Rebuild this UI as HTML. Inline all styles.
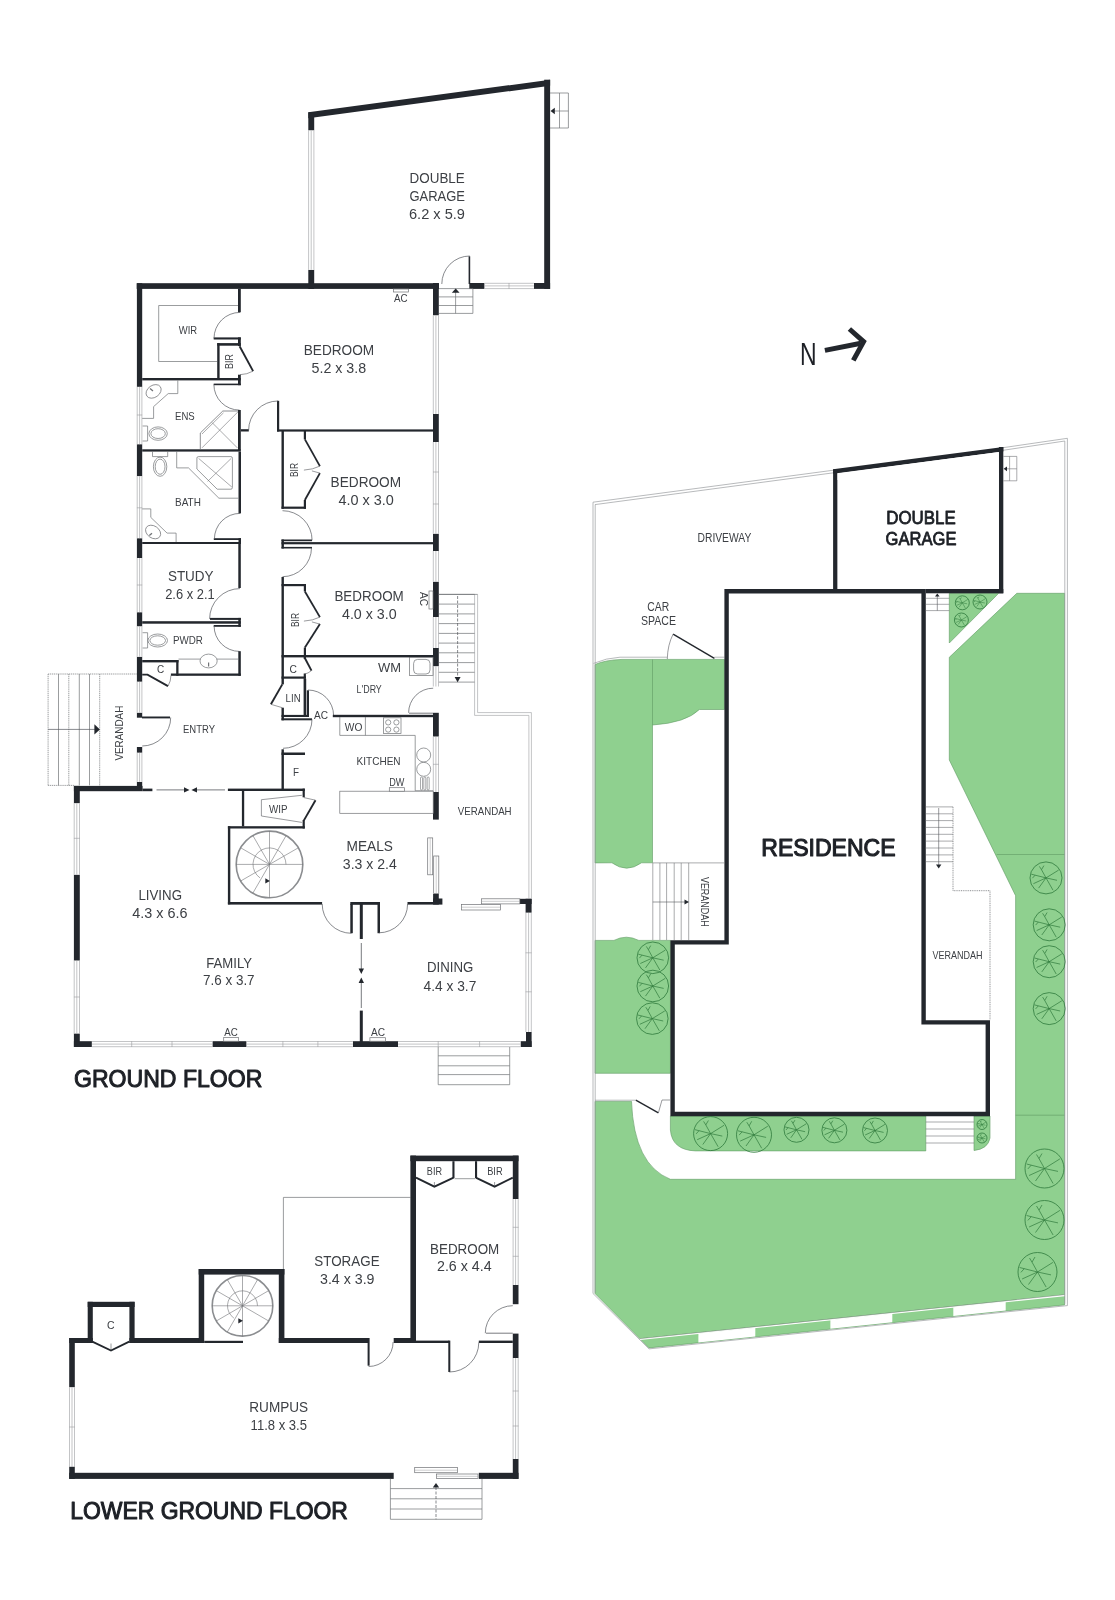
<!DOCTYPE html>
<html><head><meta charset="utf-8"><title>Floor plan</title>
<style>html,body{margin:0;padding:0;background:#fff}svg{display:block}text{font-family:"Liberation Sans",sans-serif}</style>
</head><body>
<svg width="1115" height="1600" viewBox="0 0 1115 1600">
<rect width="1115" height="1600" fill="#fff"/>
<path d="M595 862.9 L595 664.5 Q605 660 622 659.4 L724.4 659.4 L724.4 709.5 L699.4 709.5 Q685.9 722.9 652.5 725 L652.5 862.8 L641.5 862.8 Q626.7 873.6 611.9 862.8 Z" fill="#8fd08f" stroke="#5f9b63" stroke-width="0.6"/>
<polyline points="652.5,659.6 652.5,725" fill="none" stroke="#5f9b63" stroke-width="0.6"/>
<path d="M595 940.4 L613.9 940.4 Q626.3 934 638.8 940.4 L670.4 940.4 L670.4 1073.3 L595 1073.3 Z" fill="#8fd08f" stroke="#5f9b63" stroke-width="0.6"/>
<path d="M595 1101.4 L631.5 1101.4 Q634 1165 670.4 1179.3 L1015.6 1179.3 L1015.6 895.7 L949.3 760 L949.3 657.3 L1016.8 593.3 L1064.6 593.3 L1064.6 1294.9 L640 1338.8 L595 1293.5 Z" fill="#8fd08f" stroke="#5f9b63" stroke-width="0.6"/>
<polyline points="996.6,854.5 1064.6,854.5" fill="none" stroke="#5f9b63" stroke-width="0.6"/>
<polyline points="1015.6,1115.2 1064.6,1115.2" fill="none" stroke="#5f9b63" stroke-width="0.6"/>
<path d="M670.4 1116 L925.8 1116 L925.8 1150.9 L695.5 1150.9 Q672 1150 670.4 1130 Z" fill="#8fd08f" stroke="#5f9b63" stroke-width="0.6"/>
<path d="M974 1116 L990 1116 L990 1138 Q988 1149 974 1150.5 Z" fill="#8fd08f" stroke="#5f9b63" stroke-width="0.6"/>
<polygon points="949.3,593.3 998.7,593.3 949.3,643" fill="#8fd08f" stroke="#5f9b63" stroke-width="0.6"/>
<polygon points="640,1338.8 1064.6,1294.9 1064.6,1304.9 649,1347.9" fill="#8fd08f" stroke="#5f9b63" stroke-width="0.6"/>
<polygon points="698.4,1333.6 755.3,1327.7 755.3,1336.5 698.4,1342.4" fill="#fff"/>
<polygon points="830.4,1319.9 892.3,1313.5 892.3,1322.3 830.4,1328.7" fill="#fff"/>
<polygon points="953.3,1307.2 1005.7,1301.8 1005.7,1310.6 953.3,1316" fill="#fff"/>
<polyline points="640,1339.4 1064.6,1295.5" fill="none" stroke="#fff" stroke-width="1.3"/>
<polyline points="640,1338.6 1064.6,1294.7" fill="none" stroke="#9a9c9f" stroke-width="0.5"/>
<polyline points="593,502.2 833.5,470.2" fill="none" stroke="#9a9c9f" stroke-width="0.7"/>
<polyline points="595,504.6 833.5,472.8" fill="none" stroke="#9a9c9f" stroke-width="0.7"/>
<polyline points="1003,447.7 1067.4,438.3 1067.4,1305.6 649,1348.9 593,1293.5 593,502.2" fill="none" stroke="#9a9c9f" stroke-width="0.7"/>
<polyline points="1003,450.3 1064.8,441 1064.8,1303.7" fill="none" stroke="#9a9c9f" stroke-width="0.7"/>
<polyline points="595.2,504.6 595.2,1292.8" fill="none" stroke="#9a9c9f" stroke-width="0.7"/>
<path d="M593.5 663.4 Q606 658 620 657.2 L667 657.2" fill="none" stroke="#9a9c9f" stroke-width="0.7"/>
<polyline points="714.4,657.2 724.4,657.2" fill="none" stroke="#9a9c9f" stroke-width="0.7"/>
<polygon points="833.1,469.3 1003.3,447 1003.3,451.4 833.1,473.7" fill="#23272d"/>
<rect x="833.1" y="469.3" width="4.5" height="124" fill="#23272d"/>
<rect x="998.9" y="447" width="4.4" height="146.3" fill="#23272d"/>
<polygon points="724.4,589 925.8,589 925.8,1020.2 990,1020.2 990,1116.2 670.4,1116.2 670.4,940.2 724.4,940.2" fill="#23272d"/>
<polygon points="728.8,593.4 921.4,593.4 921.4,1024.6 985.6,1024.6 985.6,1111.8 674.8,1111.8 674.8,944.6 728.8,944.6" fill="#fff"/>
<rect x="925.8" y="589" width="77.5" height="4.3" fill="#23272d"/>
<rect x="837.6" y="473" width="161.3" height="116" fill="#fff"/>
<polygon points="837.6,473.5 998.9,452 998.9,480 837.6,480" fill="#fff"/>
<polyline points="1003.3,456.4 1016.8,456.4 1016.8,480.8 1003.3,480.8" fill="none" stroke="#707276" stroke-width="0.6"/>
<polyline points="1009.6,456.4 1009.6,480.8" fill="none" stroke="#707276" stroke-width="0.6"/>
<polyline points="1005,468.8 1016.8,468.8" fill="none" stroke="#707276" stroke-width="0.6"/>
<polygon points="1003.6,468.8 1007,466.4 1007,471.2" fill="#23272d"/>
<polyline points="925.8,598.3 949.3,598.3" fill="none" stroke="#707276" stroke-width="0.6"/>
<polyline points="925.8,604.3 949.3,604.3" fill="none" stroke="#707276" stroke-width="0.6"/>
<polyline points="925.8,610.6 949.3,610.6" fill="none" stroke="#707276" stroke-width="0.6"/>
<polyline points="937.3,595 937.3,610.6" fill="none" stroke="#55585d" stroke-width="0.6"/>
<polygon points="935,596.4 939.6,596.4 937.3,593.4" fill="#23272d"/>
<polyline points="652.8,862.9 652.8,940" fill="none" stroke="#707276" stroke-width="0.6"/>
<polyline points="659.9,862.9 659.9,940" fill="none" stroke="#707276" stroke-width="0.6"/>
<polyline points="666.6,862.9 666.6,940" fill="none" stroke="#707276" stroke-width="0.6"/>
<polyline points="674.2,862.9 674.2,940" fill="none" stroke="#707276" stroke-width="0.6"/>
<polyline points="681.2,862.9 681.2,940" fill="none" stroke="#707276" stroke-width="0.6"/>
<polyline points="688.7,862.9 688.7,940" fill="none" stroke="#707276" stroke-width="0.6"/>
<polyline points="652.8,862.9 724.4,862.9" fill="none" stroke="#707276" stroke-width="0.6"/>
<polyline points="652.8,902 685,902" fill="none" stroke="#55585d" stroke-width="0.6"/>
<polygon points="684.5,899.4 684.5,904.6 689,902" fill="#23272d"/>
<polyline points="925.8,806.9 953,806.9" fill="none" stroke="#707276" stroke-width="0.6"/>
<polyline points="925.8,813.8 953,813.8" fill="none" stroke="#707276" stroke-width="0.6"/>
<polyline points="925.8,820.6 953,820.6" fill="none" stroke="#707276" stroke-width="0.6"/>
<polyline points="925.8,827.4 953,827.4" fill="none" stroke="#707276" stroke-width="0.6"/>
<polyline points="925.8,834.3 953,834.3" fill="none" stroke="#707276" stroke-width="0.6"/>
<polyline points="925.8,841.1 953,841.1" fill="none" stroke="#707276" stroke-width="0.6"/>
<polyline points="925.8,848 953,848" fill="none" stroke="#707276" stroke-width="0.6"/>
<polyline points="925.8,854.9 953,854.9" fill="none" stroke="#707276" stroke-width="0.6"/>
<polyline points="925.8,861.7 953,861.7" fill="none" stroke="#707276" stroke-width="0.6"/>
<polyline points="938.7,808 938.7,865" fill="none" stroke="#55585d" stroke-width="0.6"/>
<polygon points="936,864.6 941.4,864.6 938.7,868.6" fill="#23272d"/>
<polyline points="953,806.9 953,890.7 990,890.7 990,1020.2" fill="none" stroke="#707276" stroke-width="0.8" stroke-dasharray="1 0.8"/>
<polyline points="925.8,1122 974,1122" fill="none" stroke="#707276" stroke-width="0.6"/>
<polyline points="925.8,1129 974,1129" fill="none" stroke="#707276" stroke-width="0.6"/>
<polyline points="925.8,1136 974,1136" fill="none" stroke="#707276" stroke-width="0.6"/>
<polyline points="925.8,1143 974,1143" fill="none" stroke="#707276" stroke-width="0.6"/>
<polyline points="673.1,634.1 714.4,658.3" fill="none" stroke="#23272d" stroke-width="1.4"/>
<path d="M673.1 634.1 Q667.6 645 667.3 659" fill="none" stroke="#55585d" stroke-width="0.6"/>
<polyline points="635.8,1100.2 658.4,1112.8" fill="none" stroke="#23272d" stroke-width="1.4"/>
<polyline points="658.4,1112.8 662,1100 670,1100" fill="none" stroke="#55585d" stroke-width="0.6"/>
<polyline points="595,1100.2 635.8,1100.2" fill="none" stroke="#9a9c9f" stroke-width="0.7"/>
<circle cx="962.3" cy="602.8" r="7" fill="none" stroke="#2f7a3c" stroke-width="0.8"/>
<polyline points="962.3,602.8 967.8,599.4" fill="none" stroke="#2f7a3c" stroke-width="0.5"/>
<polyline points="962.3,602.8 967.1,603.8" fill="none" stroke="#2f7a3c" stroke-width="0.5"/>
<polyline points="962.3,602.8 965.4,608.2" fill="none" stroke="#2f7a3c" stroke-width="0.5"/>
<polyline points="962.3,602.8 959.1,607.3" fill="none" stroke="#2f7a3c" stroke-width="0.5"/>
<polyline points="962.3,602.8 956.8,605.3" fill="none" stroke="#2f7a3c" stroke-width="0.5"/>
<polyline points="962.3,602.8 955.9,601.2" fill="none" stroke="#2f7a3c" stroke-width="0.5"/>
<polyline points="962.3,602.8 960.3,599.2" fill="none" stroke="#2f7a3c" stroke-width="0.5"/>
<polyline points="959.4,597.8 960.3,599.2 961.4,597.4" fill="none" stroke="#2f7a3c" stroke-width="0.5"/>
<polyline points="956.3,602.9 957.5,601.6" fill="none" stroke="#2f7a3c" stroke-width="0.5"/>
<circle cx="980" cy="602" r="7" fill="none" stroke="#2f7a3c" stroke-width="0.8"/>
<polyline points="980,602 985.5,598.6" fill="none" stroke="#2f7a3c" stroke-width="0.5"/>
<polyline points="980,602 984.8,603" fill="none" stroke="#2f7a3c" stroke-width="0.5"/>
<polyline points="980,602 983.1,607.4" fill="none" stroke="#2f7a3c" stroke-width="0.5"/>
<polyline points="980,602 976.8,606.5" fill="none" stroke="#2f7a3c" stroke-width="0.5"/>
<polyline points="980,602 974.5,604.5" fill="none" stroke="#2f7a3c" stroke-width="0.5"/>
<polyline points="980,602 973.6,600.4" fill="none" stroke="#2f7a3c" stroke-width="0.5"/>
<polyline points="980,602 978,598.4" fill="none" stroke="#2f7a3c" stroke-width="0.5"/>
<polyline points="977.1,597 978,598.4 979.1,596.6" fill="none" stroke="#2f7a3c" stroke-width="0.5"/>
<polyline points="974,602.1 975.2,600.8" fill="none" stroke="#2f7a3c" stroke-width="0.5"/>
<circle cx="961.4" cy="620" r="7" fill="none" stroke="#2f7a3c" stroke-width="0.8"/>
<polyline points="961.4,620 966.9,616.6" fill="none" stroke="#2f7a3c" stroke-width="0.5"/>
<polyline points="961.4,620 966.2,621" fill="none" stroke="#2f7a3c" stroke-width="0.5"/>
<polyline points="961.4,620 964.5,625.4" fill="none" stroke="#2f7a3c" stroke-width="0.5"/>
<polyline points="961.4,620 958.2,624.5" fill="none" stroke="#2f7a3c" stroke-width="0.5"/>
<polyline points="961.4,620 955.9,622.5" fill="none" stroke="#2f7a3c" stroke-width="0.5"/>
<polyline points="961.4,620 955,618.4" fill="none" stroke="#2f7a3c" stroke-width="0.5"/>
<polyline points="961.4,620 959.4,616.4" fill="none" stroke="#2f7a3c" stroke-width="0.5"/>
<polyline points="958.5,615 959.4,616.4 960.5,614.6" fill="none" stroke="#2f7a3c" stroke-width="0.5"/>
<polyline points="955.4,620.1 956.6,618.8" fill="none" stroke="#2f7a3c" stroke-width="0.5"/>
<circle cx="652.8" cy="957.8" r="15.8" fill="none" stroke="#2f7a3c" stroke-width="0.8"/>
<polyline points="652.8,957.8 665.3,950.1" fill="none" stroke="#2f7a3c" stroke-width="0.7"/>
<polyline points="652.8,957.8 663.7,960.2" fill="none" stroke="#2f7a3c" stroke-width="0.7"/>
<polyline points="652.8,957.8 659.8,970" fill="none" stroke="#2f7a3c" stroke-width="0.7"/>
<polyline points="652.8,957.8 645.5,967.9" fill="none" stroke="#2f7a3c" stroke-width="0.7"/>
<polyline points="652.8,957.8 640.3,963.5" fill="none" stroke="#2f7a3c" stroke-width="0.7"/>
<polyline points="652.8,957.8 638.3,954.2" fill="none" stroke="#2f7a3c" stroke-width="0.7"/>
<polyline points="652.8,957.8 648.4,949.7" fill="none" stroke="#2f7a3c" stroke-width="0.7"/>
<polyline points="646.3,946.4 648.4,949.7 650.7,945.6" fill="none" stroke="#2f7a3c" stroke-width="0.7"/>
<polyline points="639.4,958.1 642.1,955.1" fill="none" stroke="#2f7a3c" stroke-width="0.7"/>
<circle cx="652.8" cy="986" r="15.8" fill="none" stroke="#2f7a3c" stroke-width="0.8"/>
<polyline points="652.8,986 665.3,978.3" fill="none" stroke="#2f7a3c" stroke-width="0.7"/>
<polyline points="652.8,986 663.7,988.4" fill="none" stroke="#2f7a3c" stroke-width="0.7"/>
<polyline points="652.8,986 659.8,998.2" fill="none" stroke="#2f7a3c" stroke-width="0.7"/>
<polyline points="652.8,986 645.5,996.1" fill="none" stroke="#2f7a3c" stroke-width="0.7"/>
<polyline points="652.8,986 640.3,991.7" fill="none" stroke="#2f7a3c" stroke-width="0.7"/>
<polyline points="652.8,986 638.3,982.4" fill="none" stroke="#2f7a3c" stroke-width="0.7"/>
<polyline points="652.8,986 648.4,977.9" fill="none" stroke="#2f7a3c" stroke-width="0.7"/>
<polyline points="646.3,974.6 648.4,977.9 650.7,973.8" fill="none" stroke="#2f7a3c" stroke-width="0.7"/>
<polyline points="639.4,986.3 642.1,983.3" fill="none" stroke="#2f7a3c" stroke-width="0.7"/>
<circle cx="652.3" cy="1018.6" r="15.8" fill="none" stroke="#2f7a3c" stroke-width="0.8"/>
<polyline points="652.3,1018.6 664.8,1010.9" fill="none" stroke="#2f7a3c" stroke-width="0.7"/>
<polyline points="652.3,1018.6 663.2,1021" fill="none" stroke="#2f7a3c" stroke-width="0.7"/>
<polyline points="652.3,1018.6 659.3,1030.8" fill="none" stroke="#2f7a3c" stroke-width="0.7"/>
<polyline points="652.3,1018.6 645,1028.7" fill="none" stroke="#2f7a3c" stroke-width="0.7"/>
<polyline points="652.3,1018.6 639.8,1024.3" fill="none" stroke="#2f7a3c" stroke-width="0.7"/>
<polyline points="652.3,1018.6 637.8,1015" fill="none" stroke="#2f7a3c" stroke-width="0.7"/>
<polyline points="652.3,1018.6 647.9,1010.5" fill="none" stroke="#2f7a3c" stroke-width="0.7"/>
<polyline points="645.8,1007.2 647.9,1010.5 650.2,1006.4" fill="none" stroke="#2f7a3c" stroke-width="0.7"/>
<polyline points="638.9,1018.9 641.6,1015.9" fill="none" stroke="#2f7a3c" stroke-width="0.7"/>
<circle cx="1046" cy="877.9" r="16" fill="none" stroke="#2f7a3c" stroke-width="0.8"/>
<polyline points="1046,877.9 1058.6,870.1" fill="none" stroke="#2f7a3c" stroke-width="0.7"/>
<polyline points="1046,877.9 1057,880.3" fill="none" stroke="#2f7a3c" stroke-width="0.7"/>
<polyline points="1046,877.9 1053,890.2" fill="none" stroke="#2f7a3c" stroke-width="0.7"/>
<polyline points="1046,877.9 1038.6,888.1" fill="none" stroke="#2f7a3c" stroke-width="0.7"/>
<polyline points="1046,877.9 1033.4,883.7" fill="none" stroke="#2f7a3c" stroke-width="0.7"/>
<polyline points="1046,877.9 1031.3,874.2" fill="none" stroke="#2f7a3c" stroke-width="0.7"/>
<polyline points="1046,877.9 1041.5,869.7" fill="none" stroke="#2f7a3c" stroke-width="0.7"/>
<polyline points="1039.4,866.4 1041.5,869.7 1043.9,865.6" fill="none" stroke="#2f7a3c" stroke-width="0.7"/>
<polyline points="1032.4,878.2 1035.1,875.2" fill="none" stroke="#2f7a3c" stroke-width="0.7"/>
<circle cx="1049.2" cy="924.8" r="16" fill="none" stroke="#2f7a3c" stroke-width="0.8"/>
<polyline points="1049.2,924.8 1061.8,917" fill="none" stroke="#2f7a3c" stroke-width="0.7"/>
<polyline points="1049.2,924.8 1060.2,927.2" fill="none" stroke="#2f7a3c" stroke-width="0.7"/>
<polyline points="1049.2,924.8 1056.2,937.1" fill="none" stroke="#2f7a3c" stroke-width="0.7"/>
<polyline points="1049.2,924.8 1041.8,935" fill="none" stroke="#2f7a3c" stroke-width="0.7"/>
<polyline points="1049.2,924.8 1036.6,930.6" fill="none" stroke="#2f7a3c" stroke-width="0.7"/>
<polyline points="1049.2,924.8 1034.5,921.1" fill="none" stroke="#2f7a3c" stroke-width="0.7"/>
<polyline points="1049.2,924.8 1044.7,916.6" fill="none" stroke="#2f7a3c" stroke-width="0.7"/>
<polyline points="1042.6,913.3 1044.7,916.6 1047.1,912.5" fill="none" stroke="#2f7a3c" stroke-width="0.7"/>
<polyline points="1035.6,925.1 1038.3,922.1" fill="none" stroke="#2f7a3c" stroke-width="0.7"/>
<circle cx="1049.2" cy="961.7" r="16" fill="none" stroke="#2f7a3c" stroke-width="0.8"/>
<polyline points="1049.2,961.7 1061.8,953.9" fill="none" stroke="#2f7a3c" stroke-width="0.7"/>
<polyline points="1049.2,961.7 1060.2,964.1" fill="none" stroke="#2f7a3c" stroke-width="0.7"/>
<polyline points="1049.2,961.7 1056.2,974" fill="none" stroke="#2f7a3c" stroke-width="0.7"/>
<polyline points="1049.2,961.7 1041.8,971.9" fill="none" stroke="#2f7a3c" stroke-width="0.7"/>
<polyline points="1049.2,961.7 1036.6,967.5" fill="none" stroke="#2f7a3c" stroke-width="0.7"/>
<polyline points="1049.2,961.7 1034.5,958" fill="none" stroke="#2f7a3c" stroke-width="0.7"/>
<polyline points="1049.2,961.7 1044.7,953.5" fill="none" stroke="#2f7a3c" stroke-width="0.7"/>
<polyline points="1042.6,950.2 1044.7,953.5 1047.1,949.4" fill="none" stroke="#2f7a3c" stroke-width="0.7"/>
<polyline points="1035.6,962 1038.3,959" fill="none" stroke="#2f7a3c" stroke-width="0.7"/>
<circle cx="1049.2" cy="1008.6" r="16" fill="none" stroke="#2f7a3c" stroke-width="0.8"/>
<polyline points="1049.2,1008.6 1061.8,1000.8" fill="none" stroke="#2f7a3c" stroke-width="0.7"/>
<polyline points="1049.2,1008.6 1060.2,1011" fill="none" stroke="#2f7a3c" stroke-width="0.7"/>
<polyline points="1049.2,1008.6 1056.2,1020.9" fill="none" stroke="#2f7a3c" stroke-width="0.7"/>
<polyline points="1049.2,1008.6 1041.8,1018.8" fill="none" stroke="#2f7a3c" stroke-width="0.7"/>
<polyline points="1049.2,1008.6 1036.6,1014.4" fill="none" stroke="#2f7a3c" stroke-width="0.7"/>
<polyline points="1049.2,1008.6 1034.5,1004.9" fill="none" stroke="#2f7a3c" stroke-width="0.7"/>
<polyline points="1049.2,1008.6 1044.7,1000.4" fill="none" stroke="#2f7a3c" stroke-width="0.7"/>
<polyline points="1042.6,997.1 1044.7,1000.4 1047.1,996.3" fill="none" stroke="#2f7a3c" stroke-width="0.7"/>
<polyline points="1035.6,1008.9 1038.3,1005.9" fill="none" stroke="#2f7a3c" stroke-width="0.7"/>
<circle cx="710.6" cy="1133.6" r="17" fill="none" stroke="#2f7a3c" stroke-width="0.8"/>
<polyline points="710.6,1133.6 724,1125.3" fill="none" stroke="#2f7a3c" stroke-width="0.7"/>
<polyline points="710.6,1133.6 722.3,1136.1" fill="none" stroke="#2f7a3c" stroke-width="0.7"/>
<polyline points="710.6,1133.6 718.1,1146.7" fill="none" stroke="#2f7a3c" stroke-width="0.7"/>
<polyline points="710.6,1133.6 702.8,1144.5" fill="none" stroke="#2f7a3c" stroke-width="0.7"/>
<polyline points="710.6,1133.6 697.2,1139.7" fill="none" stroke="#2f7a3c" stroke-width="0.7"/>
<polyline points="710.6,1133.6 695,1129.7" fill="none" stroke="#2f7a3c" stroke-width="0.7"/>
<polyline points="710.6,1133.6 705.8,1124.9" fill="none" stroke="#2f7a3c" stroke-width="0.7"/>
<polyline points="703.6,1121.4 705.8,1124.9 708.4,1120.5" fill="none" stroke="#2f7a3c" stroke-width="0.7"/>
<polyline points="696.1,1133.9 699,1130.7" fill="none" stroke="#2f7a3c" stroke-width="0.7"/>
<circle cx="754" cy="1134.8" r="17.5" fill="none" stroke="#2f7a3c" stroke-width="0.8"/>
<polyline points="754,1134.8 767.8,1126.2" fill="none" stroke="#2f7a3c" stroke-width="0.7"/>
<polyline points="754,1134.8 766.1,1137.4" fill="none" stroke="#2f7a3c" stroke-width="0.7"/>
<polyline points="754,1134.8 761.7,1148.3" fill="none" stroke="#2f7a3c" stroke-width="0.7"/>
<polyline points="754,1134.8 746,1146" fill="none" stroke="#2f7a3c" stroke-width="0.7"/>
<polyline points="754,1134.8 740.2,1141.1" fill="none" stroke="#2f7a3c" stroke-width="0.7"/>
<polyline points="754,1134.8 737.9,1130.8" fill="none" stroke="#2f7a3c" stroke-width="0.7"/>
<polyline points="754,1134.8 749.1,1125.9" fill="none" stroke="#2f7a3c" stroke-width="0.7"/>
<polyline points="746.8,1122.2 749.1,1125.9 751.7,1121.3" fill="none" stroke="#2f7a3c" stroke-width="0.7"/>
<polyline points="739.1,1135.1 742.1,1131.8" fill="none" stroke="#2f7a3c" stroke-width="0.7"/>
<circle cx="796.5" cy="1129.8" r="12.5" fill="none" stroke="#2f7a3c" stroke-width="0.8"/>
<polyline points="796.5,1129.8 806.4,1123.7" fill="none" stroke="#2f7a3c" stroke-width="0.7"/>
<polyline points="796.5,1129.8 805.1,1131.7" fill="none" stroke="#2f7a3c" stroke-width="0.7"/>
<polyline points="796.5,1129.8 802,1139.4" fill="none" stroke="#2f7a3c" stroke-width="0.7"/>
<polyline points="796.5,1129.8 790.8,1137.8" fill="none" stroke="#2f7a3c" stroke-width="0.7"/>
<polyline points="796.5,1129.8 786.6,1134.3" fill="none" stroke="#2f7a3c" stroke-width="0.7"/>
<polyline points="796.5,1129.8 785,1126.9" fill="none" stroke="#2f7a3c" stroke-width="0.7"/>
<polyline points="796.5,1129.8 793,1123.4" fill="none" stroke="#2f7a3c" stroke-width="0.7"/>
<polyline points="791.4,1120.8 793,1123.4 794.9,1120.2" fill="none" stroke="#2f7a3c" stroke-width="0.7"/>
<polyline points="785.9,1130 788,1127.7" fill="none" stroke="#2f7a3c" stroke-width="0.7"/>
<circle cx="834.4" cy="1130.3" r="12.5" fill="none" stroke="#2f7a3c" stroke-width="0.8"/>
<polyline points="834.4,1130.3 844.3,1124.2" fill="none" stroke="#2f7a3c" stroke-width="0.7"/>
<polyline points="834.4,1130.3 843,1132.2" fill="none" stroke="#2f7a3c" stroke-width="0.7"/>
<polyline points="834.4,1130.3 839.9,1139.9" fill="none" stroke="#2f7a3c" stroke-width="0.7"/>
<polyline points="834.4,1130.3 828.6,1138.3" fill="none" stroke="#2f7a3c" stroke-width="0.7"/>
<polyline points="834.4,1130.3 824.5,1134.8" fill="none" stroke="#2f7a3c" stroke-width="0.7"/>
<polyline points="834.4,1130.3 822.9,1127.4" fill="none" stroke="#2f7a3c" stroke-width="0.7"/>
<polyline points="834.4,1130.3 830.9,1123.9" fill="none" stroke="#2f7a3c" stroke-width="0.7"/>
<polyline points="829.3,1121.3 830.9,1123.9 832.8,1120.7" fill="none" stroke="#2f7a3c" stroke-width="0.7"/>
<polyline points="823.8,1130.5 825.9,1128.2" fill="none" stroke="#2f7a3c" stroke-width="0.7"/>
<circle cx="875" cy="1130.5" r="12.5" fill="none" stroke="#2f7a3c" stroke-width="0.8"/>
<polyline points="875,1130.5 884.9,1124.4" fill="none" stroke="#2f7a3c" stroke-width="0.7"/>
<polyline points="875,1130.5 883.6,1132.4" fill="none" stroke="#2f7a3c" stroke-width="0.7"/>
<polyline points="875,1130.5 880.5,1140.1" fill="none" stroke="#2f7a3c" stroke-width="0.7"/>
<polyline points="875,1130.5 869.2,1138.5" fill="none" stroke="#2f7a3c" stroke-width="0.7"/>
<polyline points="875,1130.5 865.1,1135" fill="none" stroke="#2f7a3c" stroke-width="0.7"/>
<polyline points="875,1130.5 863.5,1127.6" fill="none" stroke="#2f7a3c" stroke-width="0.7"/>
<polyline points="875,1130.5 871.5,1124.1" fill="none" stroke="#2f7a3c" stroke-width="0.7"/>
<polyline points="869.9,1121.5 871.5,1124.1 873.4,1120.9" fill="none" stroke="#2f7a3c" stroke-width="0.7"/>
<polyline points="864.4,1130.8 866.5,1128.4" fill="none" stroke="#2f7a3c" stroke-width="0.7"/>
<circle cx="982" cy="1124.5" r="5" fill="none" stroke="#2f7a3c" stroke-width="0.8"/>
<polyline points="982,1124.5 986,1122" fill="none" stroke="#2f7a3c" stroke-width="0.5"/>
<polyline points="982,1124.5 985.5,1125.2" fill="none" stroke="#2f7a3c" stroke-width="0.5"/>
<polyline points="982,1124.5 984.2,1128.3" fill="none" stroke="#2f7a3c" stroke-width="0.5"/>
<polyline points="982,1124.5 979.7,1127.7" fill="none" stroke="#2f7a3c" stroke-width="0.5"/>
<polyline points="982,1124.5 978,1126.3" fill="none" stroke="#2f7a3c" stroke-width="0.5"/>
<polyline points="982,1124.5 977.4,1123.3" fill="none" stroke="#2f7a3c" stroke-width="0.5"/>
<polyline points="982,1124.5 980.6,1122" fill="none" stroke="#2f7a3c" stroke-width="0.5"/>
<polyline points="980,1120.9 980.6,1122 981.4,1120.7" fill="none" stroke="#2f7a3c" stroke-width="0.5"/>
<polyline points="977.8,1124.6 978.6,1123.7" fill="none" stroke="#2f7a3c" stroke-width="0.5"/>
<circle cx="982" cy="1138" r="5" fill="none" stroke="#2f7a3c" stroke-width="0.8"/>
<polyline points="982,1138 986,1135.5" fill="none" stroke="#2f7a3c" stroke-width="0.5"/>
<polyline points="982,1138 985.5,1138.8" fill="none" stroke="#2f7a3c" stroke-width="0.5"/>
<polyline points="982,1138 984.2,1141.8" fill="none" stroke="#2f7a3c" stroke-width="0.5"/>
<polyline points="982,1138 979.7,1141.2" fill="none" stroke="#2f7a3c" stroke-width="0.5"/>
<polyline points="982,1138 978,1139.8" fill="none" stroke="#2f7a3c" stroke-width="0.5"/>
<polyline points="982,1138 977.4,1136.8" fill="none" stroke="#2f7a3c" stroke-width="0.5"/>
<polyline points="982,1138 980.6,1135.5" fill="none" stroke="#2f7a3c" stroke-width="0.5"/>
<polyline points="980,1134.4 980.6,1135.5 981.4,1134.2" fill="none" stroke="#2f7a3c" stroke-width="0.5"/>
<polyline points="977.8,1138.1 978.6,1137.2" fill="none" stroke="#2f7a3c" stroke-width="0.5"/>
<circle cx="1044.5" cy="1168.5" r="19.5" fill="none" stroke="#2f7a3c" stroke-width="0.8"/>
<polyline points="1044.5,1168.5 1059.9,1158.9" fill="none" stroke="#2f7a3c" stroke-width="0.7"/>
<polyline points="1044.5,1168.5 1058,1171.4" fill="none" stroke="#2f7a3c" stroke-width="0.7"/>
<polyline points="1044.5,1168.5 1053.1,1183.5" fill="none" stroke="#2f7a3c" stroke-width="0.7"/>
<polyline points="1044.5,1168.5 1035.5,1181" fill="none" stroke="#2f7a3c" stroke-width="0.7"/>
<polyline points="1044.5,1168.5 1029.1,1175.5" fill="none" stroke="#2f7a3c" stroke-width="0.7"/>
<polyline points="1044.5,1168.5 1026.6,1164" fill="none" stroke="#2f7a3c" stroke-width="0.7"/>
<polyline points="1044.5,1168.5 1039,1158.6" fill="none" stroke="#2f7a3c" stroke-width="0.7"/>
<polyline points="1036.5,1154.5 1039,1158.6 1042,1153.5" fill="none" stroke="#2f7a3c" stroke-width="0.7"/>
<polyline points="1027.9,1168.9 1031.2,1165.2" fill="none" stroke="#2f7a3c" stroke-width="0.7"/>
<circle cx="1044.5" cy="1220" r="19.5" fill="none" stroke="#2f7a3c" stroke-width="0.8"/>
<polyline points="1044.5,1220 1059.9,1210.4" fill="none" stroke="#2f7a3c" stroke-width="0.7"/>
<polyline points="1044.5,1220 1058,1222.9" fill="none" stroke="#2f7a3c" stroke-width="0.7"/>
<polyline points="1044.5,1220 1053.1,1235" fill="none" stroke="#2f7a3c" stroke-width="0.7"/>
<polyline points="1044.5,1220 1035.5,1232.5" fill="none" stroke="#2f7a3c" stroke-width="0.7"/>
<polyline points="1044.5,1220 1029.1,1227" fill="none" stroke="#2f7a3c" stroke-width="0.7"/>
<polyline points="1044.5,1220 1026.6,1215.5" fill="none" stroke="#2f7a3c" stroke-width="0.7"/>
<polyline points="1044.5,1220 1039,1210.1" fill="none" stroke="#2f7a3c" stroke-width="0.7"/>
<polyline points="1036.5,1206 1039,1210.1 1042,1205" fill="none" stroke="#2f7a3c" stroke-width="0.7"/>
<polyline points="1027.9,1220.4 1031.2,1216.7" fill="none" stroke="#2f7a3c" stroke-width="0.7"/>
<circle cx="1037.5" cy="1272" r="19.5" fill="none" stroke="#2f7a3c" stroke-width="0.8"/>
<polyline points="1037.5,1272 1052.9,1262.4" fill="none" stroke="#2f7a3c" stroke-width="0.7"/>
<polyline points="1037.5,1272 1051,1274.9" fill="none" stroke="#2f7a3c" stroke-width="0.7"/>
<polyline points="1037.5,1272 1046.1,1287" fill="none" stroke="#2f7a3c" stroke-width="0.7"/>
<polyline points="1037.5,1272 1028.5,1284.5" fill="none" stroke="#2f7a3c" stroke-width="0.7"/>
<polyline points="1037.5,1272 1022.1,1279" fill="none" stroke="#2f7a3c" stroke-width="0.7"/>
<polyline points="1037.5,1272 1019.6,1267.5" fill="none" stroke="#2f7a3c" stroke-width="0.7"/>
<polyline points="1037.5,1272 1032,1262.1" fill="none" stroke="#2f7a3c" stroke-width="0.7"/>
<polyline points="1029.5,1258 1032,1262.1 1035,1257" fill="none" stroke="#2f7a3c" stroke-width="0.7"/>
<polyline points="1020.9,1272.4 1024.2,1268.7" fill="none" stroke="#2f7a3c" stroke-width="0.7"/>
<polyline points="824.9,350.4 861,343.2" fill="none" stroke="#23272d" stroke-width="5"/>
<polyline points="849.4,329 863.6,341.6 853.3,360.4" fill="none" stroke="#23272d" stroke-width="5" stroke-linejoin="miter" stroke-miterlimit="10"/>
<polygon points="308.3,112.3 550.1,79.7 550.1,85.7 308.3,118.3" fill="#23272d"/>
<rect x="308.3" y="112.3" width="5.9" height="18.2" fill="#23272d"/>
<rect x="308.3" y="269.8" width="5.9" height="19.2" fill="#23272d"/>
<rect x="308.3" y="130.5" width="5.9" height="139.3" fill="#fff"/>
<polyline points="308.6,130.5 308.6,269.8" fill="none" stroke="#9a9c9f" stroke-width="0.6"/>
<polyline points="311.2,130.5 311.2,269.8" fill="none" stroke="#9a9c9f" stroke-width="0.6"/>
<polyline points="313.9,130.5 313.9,269.8" fill="none" stroke="#9a9c9f" stroke-width="0.6"/>
<rect x="544.2" y="79.7" width="5.9" height="209.2" fill="#23272d"/>
<rect x="469.3" y="283" width="15.3" height="5.9" fill="#23272d"/>
<rect x="533.9" y="283" width="16.2" height="5.9" fill="#23272d"/>
<rect x="484.6" y="283" width="49.3" height="5.9" fill="#fff"/>
<polyline points="484.6,283.3 533.9,283.3" fill="none" stroke="#9a9c9f" stroke-width="0.6"/>
<polyline points="484.6,285.9 533.9,285.9" fill="none" stroke="#9a9c9f" stroke-width="0.6"/>
<polyline points="484.6,288.6 533.9,288.6" fill="none" stroke="#9a9c9f" stroke-width="0.6"/>
<polyline points="509,283 509,288.9" fill="none" stroke="#9a9c9f" stroke-width="0.6"/>
<rect x="468.6" y="256.3" width="1.6" height="27.7" fill="#23272d"/>
<path d="M469.8 256 A28 28 0 0 0 441.8 284" fill="none" stroke="#55585d" stroke-width="0.7"/>
<polyline points="438.8,288.6 472.9,288.6" fill="none" stroke="#707276" stroke-width="0.7"/>
<polyline points="438.8,296.9 472.9,296.9" fill="none" stroke="#707276" stroke-width="0.7"/>
<polyline points="438.8,305.5 472.9,305.5" fill="none" stroke="#707276" stroke-width="0.7"/>
<polyline points="438.8,313.4 472.9,313.4" fill="none" stroke="#707276" stroke-width="0.7"/>
<polyline points="472.9,288.6 472.9,313.4" fill="none" stroke="#707276" stroke-width="0.7"/>
<polyline points="455.6,291 455.6,313.4" fill="none" stroke="#707276" stroke-width="0.7"/>
<polygon points="451.8,292.8 459.6,292.8 455.7,288.6" fill="#23272d"/>
<polyline points="550,93 568.4,93 568.4,128 550,128" fill="none" stroke="#707276" stroke-width="0.7"/>
<polyline points="559.5,93 559.5,128" fill="none" stroke="#707276" stroke-width="0.7"/>
<polyline points="552,111 568.4,111" fill="none" stroke="#707276" stroke-width="0.7"/>
<polygon points="550.5,111 554.8,107.8 554.8,114.2" fill="#23272d"/>
<rect x="136.7" y="283.2" width="302.3" height="5.7" fill="#23272d"/>
<rect x="136.9" y="283.2" width="5.3" height="103.7" fill="#23272d"/>
<rect x="136.9" y="444.2" width="5.3" height="32.1" fill="#23272d"/>
<rect x="136.9" y="538.2" width="5.3" height="19.8" fill="#23272d"/>
<rect x="136.9" y="612.2" width="5.3" height="14.3" fill="#23272d"/>
<rect x="136.9" y="656.7" width="5.3" height="25.1" fill="#23272d"/>
<rect x="136.9" y="712.6" width="5.3" height="5.1" fill="#23272d"/>
<rect x="136.9" y="747" width="5.3" height="5.8" fill="#23272d"/>
<rect x="136.9" y="781.8" width="5.3" height="9.2" fill="#23272d"/>
<rect x="136.9" y="386.9" width="5.3" height="57.3" fill="#fff"/>
<polyline points="137.2,386.9 137.2,444.2" fill="none" stroke="#9a9c9f" stroke-width="0.6"/>
<polyline points="139.6,386.9 139.6,444.2" fill="none" stroke="#9a9c9f" stroke-width="0.6"/>
<polyline points="141.9,386.9 141.9,444.2" fill="none" stroke="#9a9c9f" stroke-width="0.6"/>
<polyline points="136.9,415 142.2,415" fill="none" stroke="#9a9c9f" stroke-width="0.6"/>
<rect x="136.9" y="476.3" width="5.3" height="61.9" fill="#fff"/>
<polyline points="137.2,476.3 137.2,538.2" fill="none" stroke="#9a9c9f" stroke-width="0.6"/>
<polyline points="139.6,476.3 139.6,538.2" fill="none" stroke="#9a9c9f" stroke-width="0.6"/>
<polyline points="141.9,476.3 141.9,538.2" fill="none" stroke="#9a9c9f" stroke-width="0.6"/>
<polyline points="136.9,507.8 142.2,507.8" fill="none" stroke="#9a9c9f" stroke-width="0.6"/>
<rect x="136.9" y="558" width="5.3" height="54.2" fill="#fff"/>
<polyline points="137.2,558 137.2,612.2" fill="none" stroke="#9a9c9f" stroke-width="0.6"/>
<polyline points="139.6,558 139.6,612.2" fill="none" stroke="#9a9c9f" stroke-width="0.6"/>
<polyline points="141.9,558 141.9,612.2" fill="none" stroke="#9a9c9f" stroke-width="0.6"/>
<polyline points="136.9,585 142.2,585" fill="none" stroke="#9a9c9f" stroke-width="0.6"/>
<rect x="136.9" y="626.5" width="5.3" height="30.2" fill="#fff"/>
<polyline points="137.2,626.5 137.2,656.7" fill="none" stroke="#9a9c9f" stroke-width="0.6"/>
<polyline points="139.6,626.5 139.6,656.7" fill="none" stroke="#9a9c9f" stroke-width="0.6"/>
<polyline points="141.9,626.5 141.9,656.7" fill="none" stroke="#9a9c9f" stroke-width="0.6"/>
<rect x="136.9" y="681.8" width="5.3" height="30.8" fill="#fff"/>
<polyline points="137.2,681.8 137.2,712.6" fill="none" stroke="#9a9c9f" stroke-width="0.6"/>
<polyline points="139.6,681.8 139.6,712.6" fill="none" stroke="#9a9c9f" stroke-width="0.6"/>
<polyline points="141.9,681.8 141.9,712.6" fill="none" stroke="#9a9c9f" stroke-width="0.6"/>
<rect x="136.9" y="752.8" width="5.3" height="29" fill="#fff"/>
<polyline points="137.2,752.8 137.2,781.8" fill="none" stroke="#9a9c9f" stroke-width="0.6"/>
<polyline points="139.6,752.8 139.6,781.8" fill="none" stroke="#9a9c9f" stroke-width="0.6"/>
<polyline points="141.9,752.8 141.9,781.8" fill="none" stroke="#9a9c9f" stroke-width="0.6"/>
<rect x="433" y="283" width="5.8" height="32.5" fill="#23272d"/>
<rect x="433" y="414" width="5.8" height="28" fill="#23272d"/>
<rect x="433" y="533.6" width="5.8" height="17.4" fill="#23272d"/>
<rect x="433" y="581.6" width="5.8" height="35.4" fill="#23272d"/>
<rect x="433" y="648" width="5.8" height="18.4" fill="#23272d"/>
<rect x="433" y="712.8" width="5.8" height="23.9" fill="#23272d"/>
<rect x="433" y="792" width="5.8" height="27.6" fill="#23272d"/>
<rect x="433" y="315.5" width="5.8" height="98.5" fill="#fff"/>
<polyline points="433.3,315.5 433.3,414" fill="none" stroke="#9a9c9f" stroke-width="0.6"/>
<polyline points="435.9,315.5 435.9,414" fill="none" stroke="#9a9c9f" stroke-width="0.6"/>
<polyline points="438.5,315.5 438.5,414" fill="none" stroke="#9a9c9f" stroke-width="0.6"/>
<rect x="433" y="442" width="5.8" height="91.6" fill="#fff"/>
<polyline points="433.3,442 433.3,533.6" fill="none" stroke="#9a9c9f" stroke-width="0.6"/>
<polyline points="435.9,442 435.9,533.6" fill="none" stroke="#9a9c9f" stroke-width="0.6"/>
<polyline points="438.5,442 438.5,533.6" fill="none" stroke="#9a9c9f" stroke-width="0.6"/>
<polyline points="433,472 438.8,472" fill="none" stroke="#9a9c9f" stroke-width="0.6"/>
<polyline points="433,504 438.8,504" fill="none" stroke="#9a9c9f" stroke-width="0.6"/>
<rect x="433" y="551" width="5.8" height="30.6" fill="#fff"/>
<polyline points="433.3,551 433.3,581.6" fill="none" stroke="#9a9c9f" stroke-width="0.6"/>
<polyline points="435.9,551 435.9,581.6" fill="none" stroke="#9a9c9f" stroke-width="0.6"/>
<polyline points="438.5,551 438.5,581.6" fill="none" stroke="#9a9c9f" stroke-width="0.6"/>
<rect x="433" y="617" width="5.8" height="31" fill="#fff"/>
<polyline points="433.3,617 433.3,648" fill="none" stroke="#9a9c9f" stroke-width="0.6"/>
<polyline points="435.9,617 435.9,648" fill="none" stroke="#9a9c9f" stroke-width="0.6"/>
<polyline points="438.5,617 438.5,648" fill="none" stroke="#9a9c9f" stroke-width="0.6"/>
<rect x="433" y="666.4" width="5.8" height="20.1" fill="#fff"/>
<polyline points="433.3,666.4 433.3,686.5" fill="none" stroke="#9a9c9f" stroke-width="0.6"/>
<polyline points="435.9,666.4 435.9,686.5" fill="none" stroke="#9a9c9f" stroke-width="0.6"/>
<polyline points="438.5,666.4 438.5,686.5" fill="none" stroke="#9a9c9f" stroke-width="0.6"/>
<rect x="433" y="736.7" width="5.8" height="55.3" fill="#fff"/>
<polyline points="433.3,736.7 433.3,792" fill="none" stroke="#9a9c9f" stroke-width="0.6"/>
<polyline points="435.9,736.7 435.9,792" fill="none" stroke="#9a9c9f" stroke-width="0.6"/>
<polyline points="438.5,736.7 438.5,792" fill="none" stroke="#9a9c9f" stroke-width="0.6"/>
<polyline points="433,764.3 438.8,764.3" fill="none" stroke="#9a9c9f" stroke-width="0.6"/>
<rect x="73.9" y="785.9" width="68.6" height="5.3" fill="#23272d"/>
<rect x="142.5" y="788.6" width="9.9" height="2.6" fill="#23272d"/>
<rect x="73.9" y="785.9" width="5.9" height="17.5" fill="#23272d"/>
<rect x="73.9" y="874.6" width="5.9" height="86.1" fill="#23272d"/>
<rect x="73.9" y="1033.4" width="5.9" height="13.4" fill="#23272d"/>
<rect x="73.9" y="803.4" width="5.9" height="71.2" fill="#fff"/>
<polyline points="74.2,803.4 74.2,874.6" fill="none" stroke="#9a9c9f" stroke-width="0.6"/>
<polyline points="76.8,803.4 76.8,874.6" fill="none" stroke="#9a9c9f" stroke-width="0.6"/>
<polyline points="79.5,803.4 79.5,874.6" fill="none" stroke="#9a9c9f" stroke-width="0.6"/>
<polyline points="73.9,838.3 79.8,838.3" fill="none" stroke="#9a9c9f" stroke-width="0.6"/>
<rect x="73.9" y="960.7" width="5.9" height="72.7" fill="#fff"/>
<polyline points="74.2,960.7 74.2,1033.4" fill="none" stroke="#9a9c9f" stroke-width="0.6"/>
<polyline points="76.8,960.7 76.8,1033.4" fill="none" stroke="#9a9c9f" stroke-width="0.6"/>
<polyline points="79.5,960.7 79.5,1033.4" fill="none" stroke="#9a9c9f" stroke-width="0.6"/>
<polyline points="73.9,997 79.8,997" fill="none" stroke="#9a9c9f" stroke-width="0.6"/>
<rect x="73.9" y="1041.2" width="18" height="5.8" fill="#23272d"/>
<rect x="212.4" y="1041.2" width="34.2" height="5.8" fill="#23272d"/>
<rect x="352.8" y="1041.2" width="45.2" height="5.8" fill="#23272d"/>
<rect x="520.5" y="1041.2" width="11.1" height="5.8" fill="#23272d"/>
<rect x="91.9" y="1041.2" width="120.5" height="5.8" fill="#fff"/>
<polyline points="91.9,1041.5 212.4,1041.5" fill="none" stroke="#9a9c9f" stroke-width="0.6"/>
<polyline points="91.9,1044.1 212.4,1044.1" fill="none" stroke="#9a9c9f" stroke-width="0.6"/>
<polyline points="91.9,1046.7 212.4,1046.7" fill="none" stroke="#9a9c9f" stroke-width="0.6"/>
<polyline points="131.7,1041.2 131.7,1047" fill="none" stroke="#9a9c9f" stroke-width="0.6"/>
<polyline points="172,1041.2 172,1047" fill="none" stroke="#9a9c9f" stroke-width="0.6"/>
<rect x="246.6" y="1041.2" width="106.2" height="5.8" fill="#fff"/>
<polyline points="246.6,1041.5 352.8,1041.5" fill="none" stroke="#9a9c9f" stroke-width="0.6"/>
<polyline points="246.6,1044.1 352.8,1044.1" fill="none" stroke="#9a9c9f" stroke-width="0.6"/>
<polyline points="246.6,1046.7 352.8,1046.7" fill="none" stroke="#9a9c9f" stroke-width="0.6"/>
<polyline points="282.9,1041.2 282.9,1047" fill="none" stroke="#9a9c9f" stroke-width="0.6"/>
<polyline points="317.9,1041.2 317.9,1047" fill="none" stroke="#9a9c9f" stroke-width="0.6"/>
<rect x="398" y="1041.2" width="122.5" height="5.8" fill="#fff"/>
<polyline points="398,1041.5 520.5,1041.5" fill="none" stroke="#9a9c9f" stroke-width="0.6"/>
<polyline points="398,1044.1 520.5,1044.1" fill="none" stroke="#9a9c9f" stroke-width="0.6"/>
<polyline points="398,1046.7 520.5,1046.7" fill="none" stroke="#9a9c9f" stroke-width="0.6"/>
<polyline points="438.2,1041.2 438.2,1047" fill="none" stroke="#9a9c9f" stroke-width="0.6"/>
<polyline points="479.6,1041.2 479.6,1047" fill="none" stroke="#9a9c9f" stroke-width="0.6"/>
<rect x="526" y="1032" width="5.6" height="15" fill="#23272d"/>
<rect x="525.6" y="912.6" width="6" height="119.4" fill="#fff"/>
<polyline points="525.9,912.6 525.9,1032" fill="none" stroke="#9a9c9f" stroke-width="0.6"/>
<polyline points="528.6,912.6 528.6,1032" fill="none" stroke="#9a9c9f" stroke-width="0.6"/>
<polyline points="531.3,912.6 531.3,1032" fill="none" stroke="#9a9c9f" stroke-width="0.6"/>
<polyline points="525.6,952.8 531.6,952.8" fill="none" stroke="#9a9c9f" stroke-width="0.6"/>
<polyline points="525.6,991.8 531.6,991.8" fill="none" stroke="#9a9c9f" stroke-width="0.6"/>
<rect x="519.8" y="898.8" width="11.8" height="5.2" fill="#23272d"/>
<rect x="525.6" y="898.8" width="6" height="13.8" fill="#23272d"/>
<rect x="481.4" y="898.8" width="38.4" height="5.1" fill="#fff" stroke="#707276" stroke-width="0.7"/>
<polyline points="481.4,901.3 519.8,901.3" fill="none" stroke="#9a9c9f" stroke-width="0.5"/>
<rect x="461.5" y="904.4" width="38.9" height="5.6" fill="#fff" stroke="#707276" stroke-width="0.7"/>
<polyline points="461.5,907.2 500.4,907.2" fill="none" stroke="#9a9c9f" stroke-width="0.5"/>
<rect x="433.1" y="893.8" width="5.7" height="10.8" fill="#23272d"/>
<rect x="433.1" y="898.5" width="9.3" height="6.1" fill="#23272d"/>
<rect x="427.7" y="837.9" width="5" height="36.9" fill="#fff" stroke="#707276" stroke-width="0.7"/>
<polyline points="430.2,837.9 430.2,874.8" fill="none" stroke="#9a9c9f" stroke-width="0.5"/>
<rect x="433.7" y="856" width="5.1" height="37.6" fill="#fff" stroke="#707276" stroke-width="0.7"/>
<polyline points="436.2,856 436.2,893.6" fill="none" stroke="#9a9c9f" stroke-width="0.5"/>
<rect x="359.8" y="903.9" width="3" height="35.1" fill="#23272d"/>
<rect x="359.8" y="1010.6" width="3" height="31.4" fill="#23272d"/>
<polyline points="361.3,943 361.3,970" fill="none" stroke="#55585d" stroke-width="0.8"/>
<polygon points="358.6,968.5 364,968.5 361.3,974" fill="#23272d"/>
<polyline points="361.3,981 361.3,1008" fill="none" stroke="#55585d" stroke-width="0.8"/>
<polygon points="358.6,983 364,983 361.3,977.4" fill="#23272d"/>
<polyline points="156.5,789.9 186,789.9" fill="none" stroke="#55585d" stroke-width="0.8"/>
<polygon points="184,787.2 184,792.6 189.5,789.9" fill="#23272d"/>
<polyline points="195,789.9 225,789.9" fill="none" stroke="#55585d" stroke-width="0.8"/>
<polygon points="197,787.2 197,792.6 191.4,789.9" fill="#23272d"/>
<rect x="227.9" y="902" width="94.2" height="2.6" fill="#23272d"/>
<rect x="407.5" y="902" width="25.7" height="2.6" fill="#23272d"/>
<rect x="350.3" y="902" width="29.7" height="2.8" fill="#23272d"/>
<rect x="350.3" y="903.9" width="2.5" height="29.3" fill="#23272d"/>
<rect x="377.5" y="903.9" width="2.5" height="29.3" fill="#23272d"/>
<path d="M322.2 904 A29.3 29.3 0 0 0 351.5 933.3" fill="none" stroke="#55585d" stroke-width="0.7"/>
<path d="M407.6 904 A28.8 28.8 0 0 1 378.8 932.8" fill="none" stroke="#55585d" stroke-width="0.7"/>
<polyline points="438.2,1055.8 509.7,1055.8" fill="none" stroke="#707276" stroke-width="0.7"/>
<polyline points="438.2,1065.8 509.7,1065.8" fill="none" stroke="#707276" stroke-width="0.7"/>
<polyline points="438.2,1074.6 509.7,1074.6" fill="none" stroke="#707276" stroke-width="0.7"/>
<polyline points="438.2,1084.7 509.7,1084.7" fill="none" stroke="#707276" stroke-width="0.7"/>
<polyline points="438.2,1047 438.2,1084.7" fill="none" stroke="#707276" stroke-width="0.7"/>
<polyline points="509.7,1047 509.7,1084.7" fill="none" stroke="#707276" stroke-width="0.7"/>
<polyline points="474.6,594.4 474.6,715.4 528.9,715.4 528.9,898.8" fill="none" stroke="#9a9c9f" stroke-width="0.6"/>
<polyline points="477.6,594.4 477.6,712.6 531.4,712.6 531.4,898.8" fill="none" stroke="#9a9c9f" stroke-width="0.6"/>
<polyline points="438.8,594.4 474.6,594.4" fill="none" stroke="#707276" stroke-width="0.7"/>
<polyline points="438.8,604.1 474.6,604.1" fill="none" stroke="#707276" stroke-width="0.7"/>
<polyline points="438.8,613.9 474.6,613.9" fill="none" stroke="#707276" stroke-width="0.7"/>
<polyline points="438.8,623.6 474.6,623.6" fill="none" stroke="#707276" stroke-width="0.7"/>
<polyline points="438.8,633.4 474.6,633.4" fill="none" stroke="#707276" stroke-width="0.7"/>
<polyline points="438.8,643.1 474.6,643.1" fill="none" stroke="#707276" stroke-width="0.7"/>
<polyline points="438.8,652.8 474.6,652.8" fill="none" stroke="#707276" stroke-width="0.7"/>
<polyline points="438.8,662.6 474.6,662.6" fill="none" stroke="#707276" stroke-width="0.7"/>
<polyline points="438.8,672.3 474.6,672.3" fill="none" stroke="#707276" stroke-width="0.7"/>
<polyline points="438.8,682.1 474.6,682.1" fill="none" stroke="#707276" stroke-width="0.7"/>
<polyline points="438.8,594.4 477.6,594.4" fill="none" stroke="#707276" stroke-width="0.7"/>
<polyline points="457.6,596 457.6,678" fill="none" stroke="#55585d" stroke-width="0.7" stroke-dasharray="3 1.5"/>
<polygon points="454.6,677 460.6,677 457.6,682.2" fill="#23272d"/>
<polyline points="48.1,674 48.1,785.4" fill="none" stroke="#707276" stroke-width="0.7" stroke-dasharray="1.2 0.7"/>
<polyline points="58.5,674 58.5,785.4" fill="none" stroke="#707276" stroke-width="0.7"/>
<polyline points="68.8,674 68.8,785.4" fill="none" stroke="#707276" stroke-width="0.7" stroke-dasharray="1.2 0.7"/>
<polyline points="79.3,674 79.3,785.4" fill="none" stroke="#707276" stroke-width="0.7"/>
<polyline points="89.5,674 89.5,785.4" fill="none" stroke="#707276" stroke-width="0.7"/>
<polyline points="99.7,674 99.7,785.4" fill="none" stroke="#707276" stroke-width="0.7" stroke-dasharray="1.2 0.7"/>
<polyline points="48.1,674 137,674" fill="none" stroke="#707276" stroke-width="0.7" stroke-dasharray="1.2 0.7"/>
<polyline points="48.1,785.4 74,785.4" fill="none" stroke="#707276" stroke-width="0.7" stroke-dasharray="1.2 0.7"/>
<polyline points="48.1,729.4 95,729.4" fill="none" stroke="#55585d" stroke-width="0.7"/>
<polygon points="94.4,724.2 94.4,734.6 99.9,729.4" fill="#23272d"/>
<rect x="238" y="288.9" width="2.8" height="23.4" fill="#23272d"/>
<rect x="238" y="337.4" width="2.8" height="8.6" fill="#23272d"/>
<rect x="213.7" y="337.4" width="27.1" height="2.1" fill="#23272d"/>
<path d="M240 312.4 A26 26 0 0 0 214 338.4" fill="none" stroke="#55585d" stroke-width="0.7"/>
<polyline points="238,305.5 158.7,305.5 158.7,361.5 217.2,361.5" fill="none" stroke="#707276" stroke-width="0.7"/>
<rect x="217.2" y="343.1" width="2.4" height="36.6" fill="#23272d"/>
<rect x="217.2" y="343.1" width="23.6" height="2.6" fill="#23272d"/>
<polyline points="239.6,346.3 253.1,371.1" fill="none" stroke="#23272d" stroke-width="1.9"/>
<path d="M253.1 371.1 Q247 374.5 240 374.7" fill="none" stroke="#55585d" stroke-width="0.6"/>
<rect x="142.2" y="378" width="98.6" height="2.4" fill="#23272d"/>
<rect x="238" y="374.7" width="2.8" height="10.5" fill="#23272d"/>
<rect x="213.7" y="383.6" width="27.1" height="1.6" fill="#23272d"/>
<path d="M213.9 384.5 A25.6 25.6 0 0 0 239.5 410.1" fill="none" stroke="#55585d" stroke-width="0.7"/>
<rect x="238" y="410" width="2.8" height="40.4" fill="#23272d"/>
<rect x="240.8" y="429.2" width="8" height="2.3" fill="#23272d"/>
<rect x="277" y="400.8" width="2.2" height="30.7" fill="#23272d"/>
<path d="M278 401 A29.4 29.4 0 0 0 248.6 430.4" fill="none" stroke="#55585d" stroke-width="0.7"/>
<rect x="277" y="429.4" width="156" height="2.2" fill="#23272d"/>
<rect x="142.2" y="449.3" width="98.6" height="2.3" fill="#23272d"/>
<rect x="238.5" y="451.6" width="2.5" height="61.8" fill="#23272d"/>
<rect x="213.8" y="538.2" width="27.2" height="1.8" fill="#23272d"/>
<path d="M240 513.4 A25.6 25.6 0 0 0 214.4 539" fill="none" stroke="#55585d" stroke-width="0.7"/>
<rect x="142.2" y="542" width="98.8" height="2" fill="#23272d"/>
<rect x="238.5" y="538.2" width="2.5" height="5.8" fill="#23272d"/>
<rect x="238.3" y="544" width="2.5" height="44" fill="#23272d"/>
<rect x="210" y="617.9" width="30.8" height="2" fill="#23272d"/>
<path d="M240 588.6 A30.4 30.4 0 0 0 209.6 619" fill="none" stroke="#55585d" stroke-width="0.7"/>
<rect x="142.2" y="621.2" width="98.6" height="2.5" fill="#23272d"/>
<rect x="238.3" y="617.9" width="2.5" height="8.9" fill="#23272d"/>
<rect x="213.7" y="625" width="27.1" height="1.8" fill="#23272d"/>
<path d="M214.1 626 A25.4 25.4 0 0 0 239.5 651.4" fill="none" stroke="#55585d" stroke-width="0.7"/>
<rect x="238.3" y="651.2" width="2.5" height="24.6" fill="#23272d"/>
<rect x="170.9" y="673.5" width="69.9" height="2.3" fill="#23272d"/>
<rect x="142.2" y="660" width="36.3" height="2.4" fill="#23272d"/>
<rect x="176.2" y="660" width="2.3" height="15.8" fill="#23272d"/>
<polyline points="142.2,674.6 147.5,674.6 168,686.1" fill="none" stroke="#23272d" stroke-width="1.9"/>
<path d="M168 686.1 Q171 681 170.9 675.5" fill="none" stroke="#55585d" stroke-width="0.6"/>
<polyline points="178.5,659.1 238.3,659.1" fill="none" stroke="#707276" stroke-width="0.7"/>
<ellipse cx="208.6" cy="661" rx="8.6" ry="6.9" fill="#fff" stroke="#707276" stroke-width="0.7"/>
<polyline points="208.6,662.5 208.6,666.6" fill="none" stroke="#707276" stroke-width="1.2"/>
<polyline points="142.6,632.7 147.6,632.7 147.6,648 142.6,648" fill="none" stroke="#707276" stroke-width="0.7"/>
<ellipse cx="157.7" cy="640.5" rx="9.8" ry="6.5" fill="none" stroke="#707276" stroke-width="0.7"/>
<ellipse cx="157.7" cy="640.5" rx="7.8" ry="4.7" fill="none" stroke="#707276" stroke-width="0.7"/>
<rect x="142" y="716.5" width="28" height="1.9" fill="#23272d"/>
<path d="M170.7 717.5 A28.5 28.5 0 0 1 142.2 746" fill="none" stroke="#55585d" stroke-width="0.7"/>
<rect x="281.5" y="430.5" width="2.4" height="78.3" fill="#23272d"/>
<rect x="281.5" y="539.5" width="2.4" height="9" fill="#23272d"/>
<rect x="281.5" y="577" width="2.4" height="107.4" fill="#23272d"/>
<rect x="281.5" y="707.7" width="2.4" height="12.6" fill="#23272d"/>
<rect x="281.5" y="749.3" width="2.4" height="40.7" fill="#23272d"/>
<rect x="281.5" y="506.6" width="24.4" height="2.2" fill="#23272d"/>
<rect x="303.8" y="430.5" width="2.2" height="8.9" fill="#23272d"/>
<rect x="303.8" y="500" width="2.2" height="8.8" fill="#23272d"/>
<polyline points="304.9,439.4 319.9,466.1" fill="none" stroke="#23272d" stroke-width="1.8"/>
<polyline points="319.9,473.1 304.9,500" fill="none" stroke="#23272d" stroke-width="1.8"/>
<path d="M319.9 466.1 Q312.9 469.6 303.9 470.1" fill="none" stroke="#55585d" stroke-width="0.6"/>
<polyline points="311.9,470.9 319.9,473.1" fill="none" stroke="#55585d" stroke-width="0.6"/>
<rect x="281.5" y="539.5" width="30.5" height="1.7" fill="#23272d"/>
<path d="M282.5 510.7 A29.6 29.6 0 0 1 312.1 540.3" fill="none" stroke="#55585d" stroke-width="0.7"/>
<rect x="281.5" y="542.1" width="151.5" height="2.2" fill="#23272d"/>
<rect x="281.5" y="546.9" width="30.5" height="1.6" fill="#23272d"/>
<path d="M311.5 547.7 A29 29 0 0 1 282.5 576.7" fill="none" stroke="#55585d" stroke-width="0.7"/>
<rect x="281.5" y="584" width="24.4" height="2.2" fill="#23272d"/>
<rect x="303.8" y="584" width="2.2" height="7.5" fill="#23272d"/>
<rect x="303.8" y="647.5" width="2.2" height="9.8" fill="#23272d"/>
<polyline points="304.9,591.5 319.9,617.1" fill="none" stroke="#23272d" stroke-width="1.8"/>
<polyline points="319.9,624.1 304.9,647.5" fill="none" stroke="#23272d" stroke-width="1.8"/>
<path d="M319.9 617.1 Q312.9 620.6 303.9 621.1" fill="none" stroke="#55585d" stroke-width="0.6"/>
<polyline points="311.9,621.9 319.9,624.1" fill="none" stroke="#55585d" stroke-width="0.6"/>
<rect x="281.5" y="655" width="151.5" height="2.4" fill="#23272d"/>
<rect x="281.5" y="676.5" width="24.4" height="2.2" fill="#23272d"/>
<rect x="303.7" y="655" width="2.2" height="4" fill="#23272d"/>
<rect x="303.7" y="673.5" width="2.2" height="5.2" fill="#23272d"/>
<polyline points="304.8,658 311.5,670.6" fill="none" stroke="#23272d" stroke-width="1.9"/>
<path d="M311.5 670.6 Q308 673.5 304.8 674" fill="none" stroke="#55585d" stroke-width="0.6"/>
<rect x="303.6" y="678.7" width="2.6" height="38.3" fill="#23272d"/>
<rect x="281.5" y="714.9" width="27.5" height="2.1" fill="#23272d"/>
<polyline points="282.3,684.4 270.9,704.3" fill="none" stroke="#23272d" stroke-width="1.9"/>
<polyline points="270.9,704.3 282.3,707.7" fill="none" stroke="#55585d" stroke-width="0.6"/>
<rect x="306.8" y="690.3" width="2.2" height="26.7" fill="#23272d"/>
<path d="M308 690 A25.6 25.6 0 0 1 333.6 715.6" fill="none" stroke="#55585d" stroke-width="0.7"/>
<rect x="332.8" y="714.8" width="100.2" height="2.4" fill="#23272d"/>
<rect x="281.5" y="718.3" width="30.5" height="2" fill="#23272d"/>
<path d="M312 719.3 A29 29 0 0 1 283 748.3" fill="none" stroke="#55585d" stroke-width="0.7"/>
<polyline points="409,713.2 433,713.2" fill="none" stroke="#55585d" stroke-width="0.8"/>
<path d="M408.6 712.8 A24.6 24.6 0 0 1 433.2 688.2" fill="none" stroke="#55585d" stroke-width="0.7"/>
<rect x="281.5" y="752.5" width="23.5" height="2.5" fill="#23272d"/>
<rect x="227.9" y="788.6" width="76.9" height="2.4" fill="#23272d"/>
<rect x="241.9" y="791" width="2.3" height="35.4" fill="#23272d"/>
<rect x="302.6" y="788.6" width="2.2" height="8.7" fill="#23272d"/>
<rect x="302.6" y="820" width="2.2" height="8.5" fill="#23272d"/>
<rect x="227.9" y="826.2" width="76.9" height="2.3" fill="#23272d"/>
<rect x="227.9" y="826.2" width="2.4" height="78.1" fill="#23272d"/>
<polyline points="315.5,800.2 303.9,820.4" fill="none" stroke="#23272d" stroke-width="1.9"/>
<polyline points="303.9,797.6 315.5,800.2" fill="none" stroke="#55585d" stroke-width="0.6"/>
<polyline points="301.9,795.3 261.4,799.7 261.4,816 301.9,822.4" fill="none" stroke="#55585d" stroke-width="0.6"/>
<circle cx="269.5" cy="864.4" r="33.3" fill="none" stroke="#8b8d90" stroke-width="1.6"/>
<polyline points="269.5,864.4 302.8,864.4" fill="none" stroke="#707276" stroke-width="0.6"/>
<polyline points="269.5,864.4 298.3,847.8" fill="none" stroke="#707276" stroke-width="0.6"/>
<polyline points="269.5,864.4 286.1,835.6" fill="none" stroke="#707276" stroke-width="0.6"/>
<polyline points="269.5,864.4 269.5,831.1" fill="none" stroke="#707276" stroke-width="0.6"/>
<polyline points="269.5,864.4 252.9,835.6" fill="none" stroke="#707276" stroke-width="0.6"/>
<polyline points="269.5,864.4 240.7,847.8" fill="none" stroke="#707276" stroke-width="0.6"/>
<polyline points="269.5,864.4 236.2,864.4" fill="none" stroke="#707276" stroke-width="0.6"/>
<polyline points="269.5,864.4 240.7,881" fill="none" stroke="#707276" stroke-width="0.6"/>
<polyline points="269.5,864.4 252.8,893.2" fill="none" stroke="#707276" stroke-width="0.6"/>
<polyline points="269.5,864.4 269.5,897.7" fill="none" stroke="#707276" stroke-width="0.6"/>
<path d="M286 864.4 A16.5 16.5 0 1 0 260 877.9" fill="none" stroke="#707276" stroke-width="0.6"/>
<polygon points="265.3,878.3 265.3,883.5 269.9,880.9" fill="#23272d"/>
<polyline points="177.8,380.4 177.8,393.6 168.2,393.6 153.6,406.6 153.6,418.4 142.2,418.4" fill="none" stroke="#707276" stroke-width="0.7"/>
<ellipse cx="153.6" cy="391.4" rx="8.2" ry="6" fill="none" stroke="#707276" stroke-width="0.7" transform="rotate(-35 153.6 391.4)"/>
<polyline points="150,388.6 153,391" fill="none" stroke="#707276" stroke-width="1.3"/>
<polyline points="142.6,426 147.6,426 147.6,441 142.6,441" fill="none" stroke="#707276" stroke-width="0.7"/>
<ellipse cx="158.1" cy="433.6" rx="9.2" ry="6.7" fill="none" stroke="#707276" stroke-width="0.7"/>
<ellipse cx="158.1" cy="433.6" rx="7.2" ry="4.9" fill="none" stroke="#707276" stroke-width="0.7"/>
<polyline points="200.3,449 200.3,433 222.8,411 238,411" fill="none" stroke="#707276" stroke-width="0.8"/>
<polyline points="202,447.8 237.8,412" fill="none" stroke="#707276" stroke-width="0.6"/>
<polyline points="212,422.5 237.5,448" fill="none" stroke="#707276" stroke-width="0.6"/>
<polyline points="202,434 223.5,412.8" fill="none" stroke="#707276" stroke-width="0.6"/>
<polyline points="152.5,451.6 152.5,456.6 167.7,456.6 167.7,451.6" fill="none" stroke="#707276" stroke-width="0.7"/>
<ellipse cx="160.1" cy="466.7" rx="6.7" ry="9.6" fill="none" stroke="#707276" stroke-width="0.7"/>
<ellipse cx="160.1" cy="466.7" rx="4.9" ry="7.6" fill="none" stroke="#707276" stroke-width="0.7"/>
<polyline points="176.7,451.6 176.7,467.9 188.5,467.9 218.9,498.2 238.5,498.2" fill="none" stroke="#707276" stroke-width="0.7"/>
<path d="M198.4 456.6 L230.9 456.6 Q232.4 456.6 232.4 458.1 L232.4 487.7 Q232.4 489.2 230.9 489.2 L217.2 489.2 L196.9 469 L196.9 458.1 Q196.9 456.6 198.4 456.6 Z" fill="none" stroke="#707276" stroke-width="0.7"/>
<polyline points="198.6,458.4 231.8,487" fill="none" stroke="#707276" stroke-width="0.6"/>
<polyline points="231.2,458.4 207.6,481.4" fill="none" stroke="#707276" stroke-width="0.6"/>
<polyline points="142.2,508.9 150.8,508.9 150.8,517.4 167.1,533.1 176.1,533.1 176.1,542.1" fill="none" stroke="#707276" stroke-width="0.7"/>
<ellipse cx="153.1" cy="532" rx="8.2" ry="6" fill="none" stroke="#707276" stroke-width="0.7" transform="rotate(35 153.1 532)"/>
<polyline points="149.3,535.4 152,533.2" fill="none" stroke="#707276" stroke-width="1.3"/>
<rect x="409.6" y="657.4" width="23.4" height="18.2" fill="#fff" stroke="#707276" stroke-width="0.7"/>
<rect x="413.6" y="659.4" width="16.4" height="14.6" rx="4" fill="none" stroke="#707276" stroke-width="0.7"/>
<polyline points="339.8,717 339.8,735.4 415.2,735.4 415.2,790.8" fill="none" stroke="#707276" stroke-width="0.7"/>
<polyline points="365.4,717 365.4,735.4" fill="none" stroke="#707276" stroke-width="0.7"/>
<polyline points="415.2,790.8 433,790.8" fill="none" stroke="#707276" stroke-width="0.7"/>
<rect x="383.5" y="717.8" width="17.5" height="15.6" fill="none" stroke="#707276" stroke-width="0.7"/>
<circle cx="388.2" cy="722.4" r="2.6" fill="none" stroke="#707276" stroke-width="0.7"/>
<circle cx="388.2" cy="729.6" r="2.6" fill="none" stroke="#707276" stroke-width="0.7"/>
<circle cx="396.4" cy="722.4" r="2.6" fill="none" stroke="#707276" stroke-width="0.7"/>
<circle cx="396.4" cy="729.6" r="2.6" fill="none" stroke="#707276" stroke-width="0.7"/>
<circle cx="423.7" cy="755" r="7" fill="none" stroke="#707276" stroke-width="0.7"/>
<circle cx="423.7" cy="769.3" r="7" fill="none" stroke="#707276" stroke-width="0.7"/>
<rect x="420.5" y="777" width="2" height="13" rx="1" fill="none" stroke="#707276" stroke-width="0.6"/>
<rect x="423.8" y="777" width="2" height="13" rx="1" fill="none" stroke="#707276" stroke-width="0.6"/>
<rect x="427.2" y="777" width="2" height="13" rx="1" fill="none" stroke="#707276" stroke-width="0.6"/>
<rect x="339.8" y="791.2" width="93.4" height="22.1" fill="#fff" stroke="#707276" stroke-width="0.7"/>
<rect x="389.3" y="787.7" width="15.1" height="3.5" fill="#fff" stroke="#707276" stroke-width="0.7"/>
<rect x="393.4" y="289" width="15.2" height="3" fill="#fff" stroke="#707276" stroke-width="0.7"/>
<rect x="223.7" y="1037.6" width="14.8" height="3.6" fill="#fff" stroke="#707276" stroke-width="0.7"/>
<rect x="369.9" y="1037.7" width="15.5" height="3.5" fill="#fff" stroke="#707276" stroke-width="0.7"/>
<rect x="429" y="591" width="4" height="18" fill="#fff" stroke="#707276" stroke-width="0.7"/>
<rect x="69.2" y="1338" width="5.6" height="49.4" fill="#23272d"/>
<rect x="69.2" y="1387.4" width="5.6" height="79.4" fill="#fff"/>
<polyline points="69.5,1387.4 69.5,1466.8" fill="none" stroke="#9a9c9f" stroke-width="0.6"/>
<polyline points="72,1387.4 72,1466.8" fill="none" stroke="#9a9c9f" stroke-width="0.6"/>
<polyline points="74.5,1387.4 74.5,1466.8" fill="none" stroke="#9a9c9f" stroke-width="0.6"/>
<polyline points="69.2,1427 74.8,1427" fill="none" stroke="#9a9c9f" stroke-width="0.6"/>
<rect x="69.2" y="1466.8" width="5.6" height="12.1" fill="#23272d"/>
<rect x="69.2" y="1472.8" width="324.5" height="6.1" fill="#23272d"/>
<rect x="478.8" y="1472.8" width="39.7" height="6.1" fill="#23272d"/>
<rect x="69.2" y="1338" width="23.6" height="5" fill="#23272d"/>
<rect x="129.4" y="1338" width="74.6" height="5" fill="#23272d"/>
<rect x="87.7" y="1301.8" width="46.9" height="5.2" fill="#23272d"/>
<rect x="87.7" y="1301.8" width="5.1" height="41.2" fill="#23272d"/>
<rect x="129.4" y="1301.8" width="5.2" height="41.2" fill="#23272d"/>
<polyline points="92.3,1341.6 111,1350.5 129.2,1341.6" fill="none" stroke="#23272d" stroke-width="1.9"/>
<polyline points="111,1343.5 111,1350" fill="none" stroke="#55585d" stroke-width="0.6"/>
<rect x="198.7" y="1269" width="85.7" height="5.6" fill="#23272d"/>
<rect x="198.7" y="1269" width="5.5" height="74" fill="#23272d"/>
<rect x="278.8" y="1269" width="5.6" height="74" fill="#23272d"/>
<rect x="204.2" y="1340.8" width="38.8" height="2.2" fill="#23272d"/>
<circle cx="242.5" cy="1305.8" r="30.3" fill="none" stroke="#8b8d90" stroke-width="1.6"/>
<polyline points="242.5,1305.8 272.8,1305.8" fill="none" stroke="#707276" stroke-width="0.6"/>
<polyline points="242.5,1305.8 268.7,1290.6" fill="none" stroke="#707276" stroke-width="0.6"/>
<polyline points="242.5,1305.8 257.6,1279.6" fill="none" stroke="#707276" stroke-width="0.6"/>
<polyline points="242.5,1305.8 242.5,1275.5" fill="none" stroke="#707276" stroke-width="0.6"/>
<polyline points="242.5,1305.8 227.3,1279.6" fill="none" stroke="#707276" stroke-width="0.6"/>
<polyline points="242.5,1305.8 216.3,1290.6" fill="none" stroke="#707276" stroke-width="0.6"/>
<polyline points="242.5,1305.8 212.2,1305.8" fill="none" stroke="#707276" stroke-width="0.6"/>
<polyline points="242.5,1305.8 216.3,1321" fill="none" stroke="#707276" stroke-width="0.6"/>
<polyline points="242.5,1305.8 227.3,1332" fill="none" stroke="#707276" stroke-width="0.6"/>
<polyline points="242.5,1305.8 242.5,1336.1" fill="none" stroke="#707276" stroke-width="0.6"/>
<polyline points="242.5,1305.8 268.7,1321" fill="none" stroke="#707276" stroke-width="0.6"/>
<path d="M257.5 1305.8 A15 15 0 1 0 233.9 1318.1" fill="none" stroke="#707276" stroke-width="0.6"/>
<polygon points="238.3,1318.2 238.3,1323.4 242.9,1320.8" fill="#23272d"/>
<polyline points="283.4,1269 283.4,1197.4 410.4,1197.4" fill="none" stroke="#707276" stroke-width="0.7"/>
<rect x="278.8" y="1338" width="89.8" height="5" fill="#23272d"/>
<rect x="393.7" y="1338" width="22.3" height="5" fill="#23272d"/>
<rect x="367.6" y="1338" width="2" height="27.7" fill="#23272d"/>
<path d="M368.6 1366.5 A24.5 24.5 0 0 0 393.1 1342" fill="none" stroke="#55585d" stroke-width="0.7"/>
<rect x="410.4" y="1155.6" width="5.6" height="187.4" fill="#23272d"/>
<rect x="410.4" y="1155.6" width="108.1" height="5.6" fill="#23272d"/>
<rect x="512.8" y="1155.6" width="5.7" height="43.4" fill="#23272d"/>
<rect x="512.8" y="1199" width="5.7" height="86" fill="#fff"/>
<polyline points="513.1,1199 513.1,1285" fill="none" stroke="#9a9c9f" stroke-width="0.6"/>
<polyline points="515.6,1199 515.6,1285" fill="none" stroke="#9a9c9f" stroke-width="0.6"/>
<polyline points="518.2,1199 518.2,1285" fill="none" stroke="#9a9c9f" stroke-width="0.6"/>
<polyline points="512.8,1227.3 518.5,1227.3" fill="none" stroke="#9a9c9f" stroke-width="0.6"/>
<polyline points="512.8,1256.3 518.5,1256.3" fill="none" stroke="#9a9c9f" stroke-width="0.6"/>
<rect x="512.8" y="1285" width="5.7" height="19.2" fill="#23272d"/>
<rect x="512.8" y="1333.6" width="5.7" height="24.4" fill="#23272d"/>
<rect x="512.8" y="1358" width="5.7" height="101" fill="#fff"/>
<polyline points="513.1,1358 513.1,1459" fill="none" stroke="#9a9c9f" stroke-width="0.6"/>
<polyline points="515.6,1358 515.6,1459" fill="none" stroke="#9a9c9f" stroke-width="0.6"/>
<polyline points="518.2,1358 518.2,1459" fill="none" stroke="#9a9c9f" stroke-width="0.6"/>
<polyline points="512.8,1391 518.5,1391" fill="none" stroke="#9a9c9f" stroke-width="0.6"/>
<polyline points="512.8,1426 518.5,1426" fill="none" stroke="#9a9c9f" stroke-width="0.6"/>
<rect x="512.8" y="1459" width="5.7" height="19.9" fill="#23272d"/>
<polyline points="486,1333.2 512.8,1333.2" fill="none" stroke="#55585d" stroke-width="0.8"/>
<path d="M485.3 1333.2 A27.5 27.5 0 0 1 512.8 1305.7" fill="none" stroke="#55585d" stroke-width="0.7"/>
<rect x="416" y="1340.6" width="33.3" height="2.4" fill="#23272d"/>
<rect x="478.8" y="1340.6" width="34" height="2.4" fill="#23272d"/>
<rect x="448.3" y="1340.6" width="2" height="31.4" fill="#23272d"/>
<path d="M449.3 1372 A29.5 29.5 0 0 0 478.8 1342.5" fill="none" stroke="#55585d" stroke-width="0.7"/>
<rect x="452.4" y="1161.2" width="2.1" height="16.8" fill="#23272d"/>
<rect x="475" y="1161.2" width="2.1" height="16.8" fill="#23272d"/>
<polyline points="416,1177.6 434.4,1186.6 453.6,1177.6" fill="none" stroke="#23272d" stroke-width="1.9"/>
<polyline points="434.4,1182 434.4,1186.4" fill="none" stroke="#55585d" stroke-width="0.6"/>
<polyline points="475.8,1177.6 494.6,1186.6 512.8,1177.6" fill="none" stroke="#23272d" stroke-width="1.9"/>
<polyline points="494.6,1182 494.6,1186.4" fill="none" stroke="#55585d" stroke-width="0.6"/>
<polyline points="454.5,1178.7 475,1178.7" fill="none" stroke="#707276" stroke-width="0.7"/>
<rect x="414.7" y="1467.6" width="42.8" height="5.1" fill="#fff" stroke="#707276" stroke-width="0.7"/>
<polyline points="414.7,1470.2 457.5,1470.2" fill="none" stroke="#9a9c9f" stroke-width="0.5"/>
<rect x="436.5" y="1474" width="41.5" height="4.6" fill="#fff" stroke="#707276" stroke-width="0.7"/>
<polyline points="436.5,1476.3 478,1476.3" fill="none" stroke="#9a9c9f" stroke-width="0.5"/>
<polyline points="390.4,1488.6 482,1488.6" fill="none" stroke="#707276" stroke-width="0.7"/>
<polyline points="390.4,1498.8 482,1498.8" fill="none" stroke="#707276" stroke-width="0.7"/>
<polyline points="390.4,1509 482,1509" fill="none" stroke="#707276" stroke-width="0.7"/>
<polyline points="390.4,1519.3 482,1519.3" fill="none" stroke="#707276" stroke-width="0.7"/>
<polyline points="390.4,1478.9 390.4,1519.3" fill="none" stroke="#707276" stroke-width="0.7"/>
<polyline points="482,1478.9 482,1519.3" fill="none" stroke="#707276" stroke-width="0.7"/>
<polyline points="436,1487 436,1519.3" fill="none" stroke="#55585d" stroke-width="0.7" stroke-dasharray="3 1.5"/>
<polygon points="432.8,1487.4 439.2,1487.4 436,1483" fill="#23272d"/>
<g opacity="0.999">
<text x="409.6" y="183.3" font-size="15.1" textLength="55.2" lengthAdjust="spacingAndGlyphs" fill="#3d4045">DOUBLE</text>
<text x="409.4" y="201" font-size="15.1" textLength="55.6" lengthAdjust="spacingAndGlyphs" fill="#3d4045">GARAGE</text>
<text x="409" y="218.8" font-size="15.1" textLength="56" lengthAdjust="spacingAndGlyphs" fill="#3d4045">6.2 x 5.9</text>
<text x="394" y="302" font-size="10.4" textLength="13.6" lengthAdjust="spacingAndGlyphs" fill="#3d4045">AC</text>
<text x="178.8" y="333.8" font-size="10.9" textLength="18.4" lengthAdjust="spacingAndGlyphs" fill="#3d4045">WIR</text>
<text transform="translate(229.4 361.5) rotate(-90)" x="-7.5" y="3.8" font-size="10.9" textLength="15" lengthAdjust="spacingAndGlyphs" fill="#3d4045">BIR</text>
<text x="303.7" y="355.4" font-size="15.1" textLength="70.5" lengthAdjust="spacingAndGlyphs" fill="#3d4045">BEDROOM</text>
<text x="311.5" y="373.4" font-size="15.1" textLength="54.7" lengthAdjust="spacingAndGlyphs" fill="#3d4045">5.2 x 3.8</text>
<text x="175" y="419.5" font-size="10.6" textLength="19.7" lengthAdjust="spacingAndGlyphs" fill="#3d4045">ENS</text>
<text x="175" y="506.1" font-size="10.6" textLength="25.9" lengthAdjust="spacingAndGlyphs" fill="#3d4045">BATH</text>
<text transform="translate(294.6 470) rotate(-90)" x="-7" y="3.8" font-size="10.9" textLength="14" lengthAdjust="spacingAndGlyphs" fill="#3d4045">BIR</text>
<text x="330.6" y="486.5" font-size="15.1" textLength="70.5" lengthAdjust="spacingAndGlyphs" fill="#3d4045">BEDROOM</text>
<text x="338.5" y="504.5" font-size="15.1" textLength="55.4" lengthAdjust="spacingAndGlyphs" fill="#3d4045">4.0 x 3.0</text>
<text x="167.9" y="581.2" font-size="15.1" textLength="45.7" lengthAdjust="spacingAndGlyphs" fill="#3d4045">STUDY</text>
<text x="165.2" y="599.2" font-size="15.1" textLength="49.5" lengthAdjust="spacingAndGlyphs" fill="#3d4045">2.6 x 2.1</text>
<text transform="translate(294.9 620) rotate(-90)" x="-7" y="3.8" font-size="10.9" textLength="14" lengthAdjust="spacingAndGlyphs" fill="#3d4045">BIR</text>
<text x="334.4" y="600.8" font-size="15.1" textLength="69.4" lengthAdjust="spacingAndGlyphs" fill="#3d4045">BEDROOM</text>
<text x="342" y="618.9" font-size="15.1" textLength="54.6" lengthAdjust="spacingAndGlyphs" fill="#3d4045">4.0 x 3.0</text>
<text transform="translate(424 599) rotate(90)" x="-7" y="3.6" font-size="10.4" textLength="14" lengthAdjust="spacingAndGlyphs" fill="#3d4045">AC</text>
<text x="173" y="643.8" font-size="10.6" textLength="29.9" lengthAdjust="spacingAndGlyphs" fill="#3d4045">PWDR</text>
<text x="157" y="673.2" font-size="10.6" textLength="7.2" lengthAdjust="spacingAndGlyphs" fill="#3d4045">C</text>
<text x="289.6" y="672.6" font-size="10.6" textLength="7.4" lengthAdjust="spacingAndGlyphs" fill="#3d4045">C</text>
<text x="378" y="672" font-size="13" textLength="23" lengthAdjust="spacingAndGlyphs" fill="#3d4045">WM</text>
<text x="356.6" y="693.2" font-size="11.2" textLength="25.2" lengthAdjust="spacingAndGlyphs" fill="#3d4045">L'DRY</text>
<text x="285.6" y="701.5" font-size="10.6" textLength="15" lengthAdjust="spacingAndGlyphs" fill="#3d4045">LIN</text>
<text x="314" y="719" font-size="10.6" textLength="14" lengthAdjust="spacingAndGlyphs" fill="#3d4045">AC</text>
<text x="344.8" y="731" font-size="10.6" textLength="17.6" lengthAdjust="spacingAndGlyphs" fill="#3d4045">WO</text>
<text x="183" y="733" font-size="11.2" textLength="32" lengthAdjust="spacingAndGlyphs" fill="#3d4045">ENTRY</text>
<text transform="translate(119.4 733.2) rotate(-90)" x="-27.4" y="4" font-size="11.8" textLength="54.9" lengthAdjust="spacingAndGlyphs" fill="#3d4045">VERANDAH</text>
<text x="356.6" y="765" font-size="11.2" textLength="44" lengthAdjust="spacingAndGlyphs" fill="#3d4045">KITCHEN</text>
<text x="293" y="775.6" font-size="10.6" textLength="6" lengthAdjust="spacingAndGlyphs" fill="#3d4045">F</text>
<text x="389.3" y="786" font-size="10.6" textLength="15.1" lengthAdjust="spacingAndGlyphs" fill="#3d4045">DW</text>
<text x="269.1" y="813.3" font-size="10.9" textLength="18.5" lengthAdjust="spacingAndGlyphs" fill="#3d4045">WIP</text>
<text x="457.8" y="814.5" font-size="11.2" textLength="53.8" lengthAdjust="spacingAndGlyphs" fill="#3d4045">VERANDAH</text>
<text x="346.6" y="851" font-size="15.1" textLength="46.4" lengthAdjust="spacingAndGlyphs" fill="#3d4045">MEALS</text>
<text x="342.8" y="869" font-size="15.1" textLength="54" lengthAdjust="spacingAndGlyphs" fill="#3d4045">3.3 x 2.4</text>
<text x="138.4" y="899.7" font-size="15.1" textLength="43.6" lengthAdjust="spacingAndGlyphs" fill="#3d4045">LIVING</text>
<text x="132.2" y="917.7" font-size="15.1" textLength="55.2" lengthAdjust="spacingAndGlyphs" fill="#3d4045">4.3 x 6.6</text>
<text x="206.2" y="967.5" font-size="15.1" textLength="45.8" lengthAdjust="spacingAndGlyphs" fill="#3d4045">FAMILY</text>
<text x="203" y="985" font-size="15.1" textLength="51.6" lengthAdjust="spacingAndGlyphs" fill="#3d4045">7.6 x 3.7</text>
<text x="426.9" y="971.7" font-size="15.1" textLength="46.4" lengthAdjust="spacingAndGlyphs" fill="#3d4045">DINING</text>
<text x="423.6" y="990.5" font-size="15.1" textLength="52.7" lengthAdjust="spacingAndGlyphs" fill="#3d4045">4.4 x 3.7</text>
<text x="224.2" y="1035.5" font-size="10.4" textLength="13.5" lengthAdjust="spacingAndGlyphs" fill="#3d4045">AC</text>
<text x="370.9" y="1035.7" font-size="10.4" textLength="14.1" lengthAdjust="spacingAndGlyphs" fill="#3d4045">AC</text>
<text x="74" y="1087.1" font-size="23.4" textLength="188.3" lengthAdjust="spacingAndGlyphs" fill="#1d2026" stroke="#1d2026" stroke-width="1.0" stroke-linejoin="round">GROUND FLOOR</text>
<text x="426.8" y="1174.8" font-size="10.9" textLength="15.2" lengthAdjust="spacingAndGlyphs" fill="#3d4045">BIR</text>
<text x="487.2" y="1174.8" font-size="10.9" textLength="15.4" lengthAdjust="spacingAndGlyphs" fill="#3d4045">BIR</text>
<text x="430" y="1254.2" font-size="15.1" textLength="69.3" lengthAdjust="spacingAndGlyphs" fill="#3d4045">BEDROOM</text>
<text x="437" y="1271.4" font-size="15.1" textLength="54.6" lengthAdjust="spacingAndGlyphs" fill="#3d4045">2.6 x 4.4</text>
<text x="314.3" y="1265.8" font-size="15.1" textLength="65.3" lengthAdjust="spacingAndGlyphs" fill="#3d4045">STORAGE</text>
<text x="320" y="1283.7" font-size="15.1" textLength="54.5" lengthAdjust="spacingAndGlyphs" fill="#3d4045">3.4 x 3.9</text>
<text x="106.9" y="1329" font-size="10.6" textLength="7.6" lengthAdjust="spacingAndGlyphs" fill="#3d4045">C</text>
<text x="249.3" y="1411.8" font-size="15.1" textLength="58.9" lengthAdjust="spacingAndGlyphs" fill="#3d4045">RUMPUS</text>
<text x="250.6" y="1429.7" font-size="15.1" textLength="56.4" lengthAdjust="spacingAndGlyphs" fill="#3d4045">11.8 x 3.5</text>
<text x="70.2" y="1518.5" font-size="23.4" textLength="277.7" lengthAdjust="spacingAndGlyphs" fill="#1d2026" stroke="#1d2026" stroke-width="1.0" stroke-linejoin="round">LOWER GROUND FLOOR</text>
<text x="800" y="364.8" font-size="31.8" textLength="16.6" lengthAdjust="spacingAndGlyphs" fill="#1d2026">N</text>
<text x="697.5" y="541.6" font-size="12" textLength="53.8" lengthAdjust="spacingAndGlyphs" fill="#3d4045">DRIVEWAY</text>
<text x="886.2" y="523.9" font-size="18.7" textLength="69.5" lengthAdjust="spacingAndGlyphs" fill="#1d2026" stroke="#1d2026" stroke-width="0.8" stroke-linejoin="round">DOUBLE</text>
<text x="885.6" y="545.4" font-size="18.7" textLength="70.9" lengthAdjust="spacingAndGlyphs" fill="#1d2026" stroke="#1d2026" stroke-width="0.8" stroke-linejoin="round">GARAGE</text>
<text x="647.3" y="611.2" font-size="12" textLength="21.9" lengthAdjust="spacingAndGlyphs" fill="#3d4045">CAR</text>
<text x="641" y="625" font-size="12" textLength="35" lengthAdjust="spacingAndGlyphs" fill="#3d4045">SPACE</text>
<text x="761.3" y="855.8" font-size="24.4" textLength="134.2" lengthAdjust="spacingAndGlyphs" fill="#1d2026" stroke="#1d2026" stroke-width="1.15" stroke-linejoin="round">RESIDENCE</text>
<text transform="translate(704.7 901.8) rotate(90)" x="-24.9" y="3.8" font-size="10.9" textLength="49.8" lengthAdjust="spacingAndGlyphs" fill="#3d4045">VERANDAH</text>
<text x="932.5" y="959.3" font-size="11.2" textLength="50.1" lengthAdjust="spacingAndGlyphs" fill="#3d4045">VERANDAH</text>
</g>
</svg>
</body></html>
